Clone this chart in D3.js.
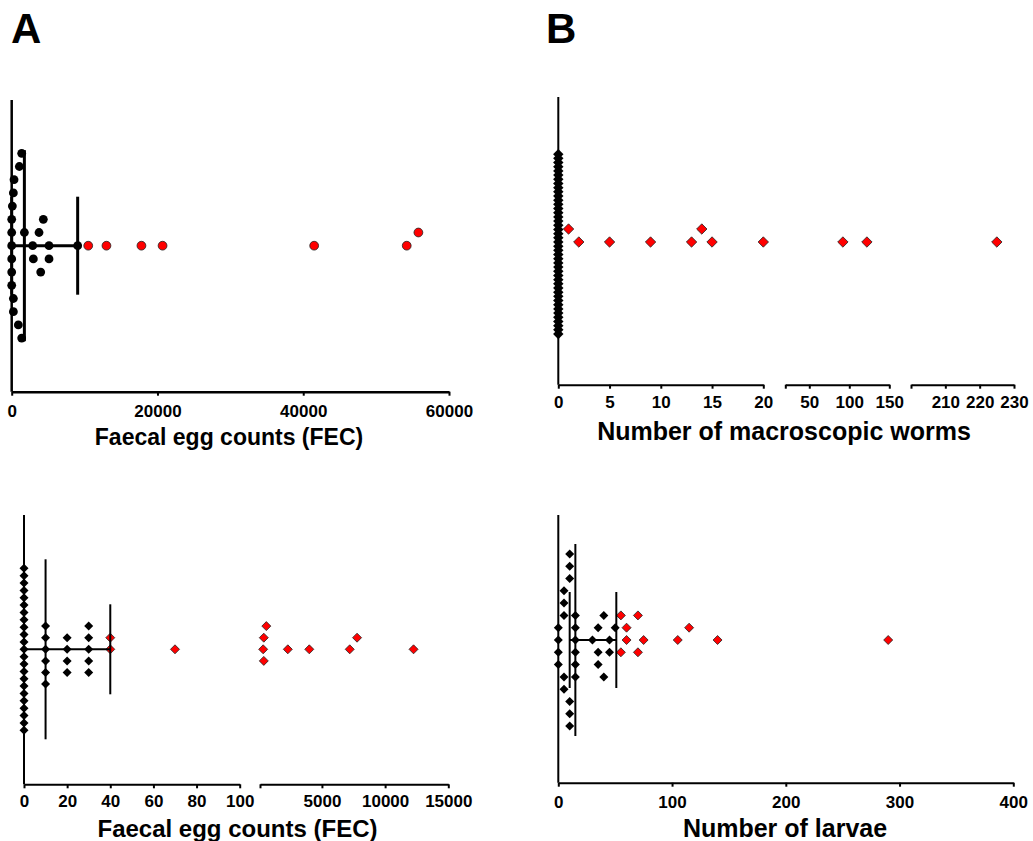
<!DOCTYPE html>
<html>
<head>
<meta charset="utf-8">
<script src="https://cdn.jsdelivr.net/npm/d3@7"></script>
<style>
  body { margin: 0; background: #fff; }
  svg { font-family: "Liberation Sans", Arial, sans-serif; font-weight: bold; }
</style>
</head>
<body>
<div id="chart"></div>
<script>
// ---- data ----

// A, top: faecal egg counts (circles)
var fecTopNeg = [0, 0, 0, 0, 0, 0, 90, 230, 230, 230, 320, 910, 1050, 1370, 1370,
  2880, 2970, 3750, 3980, 4340, 5120, 5120, 9050, 1740];
var fecTopPos = [10500, 13000, 17800, 20700, 41500, 54200, 55800];
var fecTopSummary = [0, 1740, 9050]; // q1, median, q3
var fecTopTicks = [0, 20000, 40000, 60000];

// B, top: number of macroscopic worms (diamonds, broken axis)
var wormsNeg = [0, 0, 0, 0, 0, 0, 0, 0, 0, 0, 0, 0, 0, 0, 0, 0, 0, 0, 0, 0, 0, 0,
  0, 0, 0, 0, 0, 0, 0, 0, 0, 0, 0, 0, 0, 0, 0, 0, 0, 0, 0, 0, 0, 0];
var wormsPos = [2, 5, 9, 13, 15, 20, 92, 122, 225, 14, 1];
var wormsSegments = [[0, 20], [20, 150], [200, 230]];
var wormsTicks = [[0, 5, 10, 15, 20], [50, 100, 150], [210, 220, 230]];

// A, bottom: faecal egg counts (diamonds, broken axis)
var fecBotNeg = [0, 0, 0, 0, 0, 0, 0, 0, 0, 0, 0, 0, 0, 0, 0, 0, 0, 0, 0, 0, 0, 0, 0,
  10, 10, 10, 10, 10, 10, 20, 20, 20, 20, 30, 30, 30, 30, 30];
var fecBotPos = [40, 40, 70, 2300, 4000, 7200, 12250, 350, 400, 400, 600, 7780];
var fecBotSummary = [0, 10, 40];
var fecBotSegments = [[0, 100], [100, 15000]];
var fecBotTicks = [[0, 20, 40, 60, 80, 100], [5000, 10000, 15000]];

// B, bottom: number of larvae (diamonds)
var larvaeNeg = [0, 0, 0, 0, 15, 15, 15, 15, 15, 15, 5, 5, 5, 5, 5,
  10, 10, 10, 10, 10, 10, 30, 35, 35, 35, 45, 45, 40, 40, 50];
var larvaePos = [60, 75, 105, 140, 290, 60, 70, 70, 55, 55, 115];
var larvaeSummary = [10, 15, 51];
var larvaeTicks = [0, 100, 200, 300, 400];

// ---- layout ----
var svgWidth = 1033;
var svgHeight = 841;

var svg = d3.select("#chart")
  .append("svg")
  .attr("width", svgWidth)
  .attr("height", svgHeight);

var panels = [
  {
    segments: [{ domain: [0, 60000], range: [11.7, 449], ticks: fecTopTicks }],
    axisY: 391.7, axisTop: 100, axisWidth: 2.5, tickPad: 9,
    cy: 245.7, step: 13.2, maxHalf: 95,
    shape: "circle", size: 4.4,
    series: [
      { values: fecTopNeg, color: "#000", gap: 12.5, dir: 1 },
      { values: fecTopPos, color: "#ff0000", gap: 12.5, dir: -1 }
    ],
    summary: fecTopSummary, lineWidth: 3, longHalf: 95.5, capHalf: 49,
    title: "Faecal egg counts (FEC)", titleX: 229, titleY: 436.7, titleSize: 23
  },
  {
    segments: wormsSegments.map(function(d, i) {
      return { domain: d, range: [[558.3, 763.3], [785.3, 889.3], [911, 1014]][i], ticks: wormsTicks[i] };
    }),
    axisY: 384.7, axisTop: 97, axisWidth: 2, tickPad: 7,
    cy: 242, step: 13, maxHalf: 92,
    shape: "diamond", size: 5.2,
    series: [
      { values: wormsNeg, color: "#000", gap: 11, dir: 1 },
      { values: wormsPos, color: "#ff0000", gap: 11, dir: -1 }
    ],
    summary: null,
    title: "Number of macroscopic worms", titleX: 784, titleY: 431.7, titleSize: 25
  },
  {
    segments: fecBotSegments.map(function(d, i) {
      return { domain: d, range: [[24, 239.7], [260, 448.3]][i], ticks: fecBotTicks[i] };
    }),
    axisY: 784.3, axisTop: 515, axisWidth: 2, tickPad: 6.5,
    cy: 649.3, step: 11.6, maxHalf: 81,
    shape: "diamond", size: 4.5,
    series: [
      { values: fecBotNeg, color: "#000", gap: 11, dir: 1 },
      { values: fecBotPos, color: "#ff0000", gap: 11, dir: -1 }
    ],
    summary: fecBotSummary, lineWidth: 2, longHalf: 90, capHalf: 45,
    title: "Faecal egg counts (FEC)", titleX: 237.5, titleY: 828.3, titleSize: 24
  },
  {
    segments: [{ domain: [0, 400], range: [558.3, 1013.3], ticks: larvaeTicks }],
    axisY: 782.7, axisTop: 515, axisWidth: 2, tickPad: 9,
    cy: 640, step: 12.3, maxHalf: 95,
    shape: "diamond", size: 4.5,
    series: [
      { values: larvaeNeg, color: "#000", gap: 9, dir: 1 },
      { values: larvaePos, color: "#ff0000", gap: 12, dir: -1 }
    ],
    summary: larvaeSummary, lineWidth: 2, longHalf: 96, capHalf: 48,
    title: "Number of larvae", titleX: 785, titleY: 828.3, titleSize: 25
  }
];

// one linear scale per axis segment, values outside fall in the nearest one
function brokenScale(segments) {
  var scales = segments.map(function(s) {
    return d3.scaleLinear().domain(s.domain).range(s.range);
  });
  return function(v) {
    for (var i = 0; i < segments.length; i++) {
      if (v <= segments[i].domain[1]) return scales[i](v);
    }
    return scales[scales.length - 1](v);
  };
}

// simple beeswarm: take points in data order, put each on the first free row
function swarm(values, x, gap, dir) {
  var placed = [];
  values.forEach(function(v) {
    var px = x(v);
    for (var k = 0; k < 200; k++) {
      var slot = k === 0 ? 0 : (k % 2 ? 1 : -1) * Math.ceil(k / 2) * dir;
      var hit = placed.some(function(p) {
        return p.slot === slot && Math.abs(p.px - px) < gap;
      });
      if (!hit) {
        placed.push({ value: v, px: px, slot: slot, squeeze: 1 });
        break;
      }
    }
  });
  return placed;
}

function diamondPath(h) {
  return "M0," + (-h) + "L" + h + ",0L0," + h + "L" + (-h) + ",0Z";
}

panels.forEach(function(p) {
  var g = svg.append("g");
  var x = brokenScale(p.segments);

  // x axis, one piece per segment
  p.segments.forEach(function(s, i) {
    var scale = d3.scaleLinear().domain(s.domain).range(s.range);
    var tv = i > 0 ? [s.domain[0]].concat(s.ticks) : s.ticks;
    var axis = d3.axisBottom(scale)
      .tickValues(tv)
      .tickSize(4)
      .tickSizeOuter(0)
      .tickPadding(p.tickPad)
      .tickFormat(function(d) { return (i > 0 && d === s.domain[0]) ? "" : d3.format("d")(d); });

    var ax = g.append("g")
      .attr("transform", `translate(0, ${p.axisY})`)
      .call(axis);
    ax.select(".domain")
      .attr("stroke", "#000")
      .attr("stroke-width", p.axisWidth);
    ax.selectAll(".tick line")
      .attr("stroke", "#000")
      .attr("stroke-width", 2);
    ax.selectAll(".tick text")
      .attr("fill", "#000")
      .style("font-size", "17px")
      .style("font-weight", "bold");
  });

  // y axis is just a line at zero
  g.append("line")
    .attr("x1", x(0)).attr("x2", x(0))
    .attr("y1", p.axisTop).attr("y2", p.axisY)
    .attr("stroke", "#000")
    .attr("stroke-width", p.axisWidth);

  // points
  p.series.forEach(function(s) {
    var pts = swarm(s.values, x, s.gap, s.dir);

    // squeeze tall stacks of equal values so they fit the panel
    d3.group(pts, function(d) { return d.value; }).forEach(function(grp) {
      var top = d3.max(grp, function(d) { return Math.abs(d.slot); });
      if (top * p.step > p.maxHalf) {
        grp.forEach(function(d) { d.squeeze = p.maxHalf / (top * p.step); });
      }
    });

    var marks = g.selectAll(null)
      .data(pts)
      .enter();

    var m;
    if (p.shape === "circle") {
      m = marks.append("circle")
        .attr("cx", function(d) { return d.px; })
        .attr("cy", function(d) { return p.cy + d.slot * p.step * d.squeeze; })
        .attr("r", p.size);
    } else {
      m = marks.append("path")
        .attr("d", diamondPath(p.size))
        .attr("transform", function(d) {
          return `translate(${d.px}, ${p.cy + d.slot * p.step * d.squeeze})`;
        });
    }
    m.attr("fill", s.color)
      .attr("stroke", s.color === "#000" ? "none" : "#222")
      .attr("stroke-width", 0.8);
  });

  // median with interquartile range
  if (p.summary) {
    var q1 = x(p.summary[0]), med = x(p.summary[1]), q3 = x(p.summary[2]);
    var lines = [
      [q1, p.cy, q3, p.cy],
      [med, p.cy - p.longHalf, med, p.cy + p.longHalf],
      [q1, p.cy - p.capHalf, q1, p.cy + p.capHalf],
      [q3, p.cy - p.capHalf, q3, p.cy + p.capHalf]
    ];
    g.selectAll(null)
      .data(lines)
      .enter()
      .append("line")
      .attr("x1", function(d) { return d[0]; })
      .attr("y1", function(d) { return d[1]; })
      .attr("x2", function(d) { return d[2]; })
      .attr("y2", function(d) { return d[3]; })
      .attr("stroke", "#000")
      .attr("stroke-width", p.lineWidth);
  }

  // axis title
  g.append("text")
    .attr("x", p.titleX)
    .attr("y", p.titleY + p.titleSize * 0.35)
    .attr("text-anchor", "middle")
    .style("font-size", p.titleSize + "px")
    .text(p.title);
});

// panel letters
svg.append("text")
  .attr("x", 11)
  .attr("y", 42.7)
  .style("font-size", "42px")
  .text("A");

svg.append("text")
  .attr("x", 546)
  .attr("y", 42.7)
  .style("font-size", "42px")
  .text("B");
</script>
</body>
</html>
